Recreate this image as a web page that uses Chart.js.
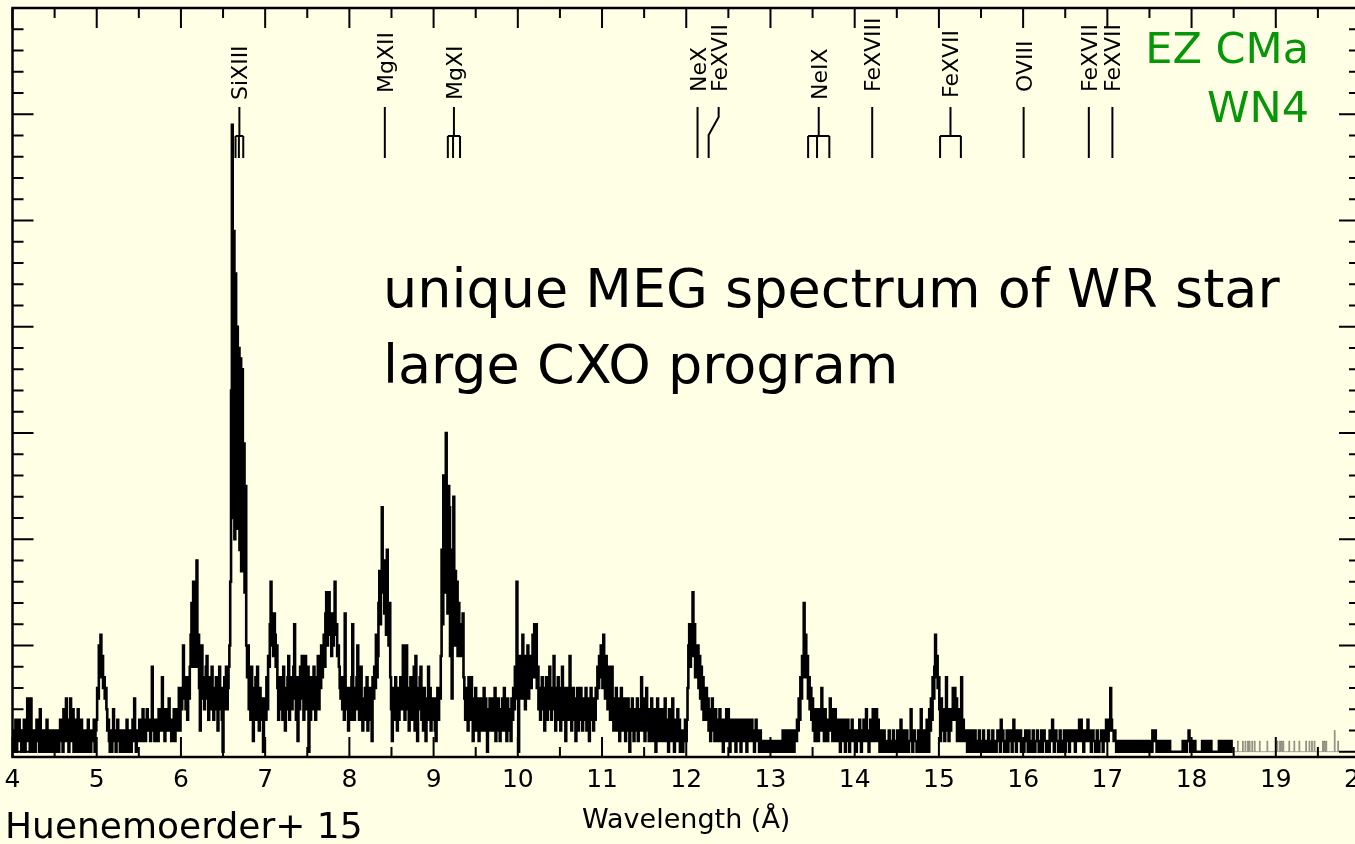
<!DOCTYPE html>
<html><head><meta charset="utf-8">
<script src="https://cdn.jsdelivr.net/npm/chart.js@4.4.1/dist/chart.umd.min.js"></script>
<style>
html,body{margin:0;padding:0;background:#ffffe5;overflow:hidden;width:1355px;height:844px;}
canvas{display:block;}
</style></head><body>
<canvas id="c" width="1380" height="844" style="width:1380px;height:844px"></canvas>
<script>
// ---- data: MEG counts per 0.01 Å bin ----
const binStep = 0.01;
const c04 = [2,0,2,1,3,0,2,1,3,1, 2,0,2,1,3,0,2,1,5,1, 3,0,5,1,2,0,2,0,2,3, 1,2,0,4,1,2,0,2,1,2, 0,3,1,2,0,2,1,2,0,2,
             1,0,2,1,2,0,2,3,1,2, 0,4,1,2,5,1,3,0,2,5, 1,2,4,0,3,1,2,0,4,1, 2,0,3,1,2,0,2,1,2,0, 3,1,2,0,2,1,2,3,0,2];
const c05 = [3,6,5,10,7,11,8,9,6,7, 5,6,4,2,3,1,0,2,0,2, 4,1,2,0,2,3,1,2,0,2, 1,0,2,1,2,0,3,1,2,0, 2,0,2,3,1,5,2,0,2,1,
             2,3,1,2,3,4,1,3,1,2, 4,2,3,2,1,3,8,2,3,1, 2,3,2,1,4,2,3,2,7,2, 3,1,4,2,3,2,5,2,3,1, 2,3,4,1,3,2,4,3,6,2];
const c06 = [5,4,6,10,5,7,4,6,3,7, 5,8,11,14,8,16,9,13,8,18, 9,11,6,2,7,10,5,7,4,6, 8,9,5,3,7,6,4,8,5,3, 6,4,7,5,2,6,8,4,6,3,
             0,5,7,4,8,4,6,8,10,16, 34,59,22,49,20,45,24,40,21,38, 19,37,17,36,18,29,15,25,10,7, 10,4,6,3,8,5,1,6,4,7, 3,8,5,2,6,4,3,5,0,4];
const c07 = [5,3,7,4,9,8,12,16,10,13, 9,13,11,8,10,6,3,5,7,4, 6,3,8,5,2,6,4,7,9,3, 5,7,4,6,8,12,5,3,7,1, 6,4,8,5,9,6,3,7,9,5,
             4,8,0,6,3,7,5,4,8,6, 3,7,5,9,4,8,6,10,7,9, 11,8,13,15,10,14,15,11,12,9, 13,10,12,16,11,12,9,10,8,6, 5,7,4,6,3,13,5,4,6,2];
const c08 = [4,6,3,7,12,5,3,6,4,7, 10,5,3,6,8,4,2,5,3,6, 4,7,2,5,3,6,4,1,7,5, 8,6,11,7,9,14,17,12,16,23, 15,18,13,16,11,19,12,10,14,7,
             4,1,6,3,5,7,4,2,6,3, 5,7,4,6,10,5,3,7,10,4, 6,2,5,7,3,6,4,8,2,9, 5,1,6,4,7,8,3,5,2,6, 4,1,5,3,8,4,6,2,5,3];
const c09 = [3,5,2,1,4,6,3,5,5,9, 19,12,26,15,22,30,25,13,25,23, 9,19,5,14,24,10,17,11,16,9, 14,10,12,9,11,13,7,5,3,6, 4,2,7,5,3,7,4,1,5,3,
             6,2,4,5,1,3,5,2,4,3, 6,2,5,3,0,4,2,5,3,4, 2,5,3,6,1,4,2,5,3,1, 4,2,5,3,6,2,4,1,5,3, 2,4,1,5,3,6,4,8,5,16];
const c10 = [7,0,9,6,8,5,11,7,9,4, 8,6,10,5,7,9,6,8,11,7, 12,9,12,6,8,4,6,3,5,7, 4,6,2,5,7,3,6,4,8,5, 3,6,4,9,5,2,6,4,7,3,
             5,2,6,8,4,3,6,1,5,4, 6,3,9,5,2,4,6,3,5,1, 4,6,2,5,3,6,4,2,5,3, 4,6,2,5,3,1,4,6,3,5, 2,4,3,6,5,8,6,9,7,10];
const c11 = [10,6,11,8,5,9,7,4,8,6, 3,5,8,4,2,5,3,6,2,4, 5,1,3,6,2,4,3,5,1,4, 2,5,3,0,4,2,5,3,1,4, 2,3,5,1,3,2,4,7,3,2,
             5,1,3,6,2,4,1,3,2,5, 1,3,4,2,0,3,5,2,1,4, 2,3,1,4,2,5,1,3,2,0, 4,2,1,3,5,2,0,3,1,2, 4,1,3,0,2,1,0,2,1,3];
const c12 = [1,3,6,10,12,8,12,9,15,11, 12,7,10,8,10,6,9,5,8,4, 7,3,6,4,6,3,5,2,4,1, 3,5,2,4,1,4,2,3,1,2, 4,1,3,2,0,3,1,2,4,1,
             4,2,0,3,1,2,3,1,2,0, 3,1,2,1,3,0,2,1,3,2, 1,3,0,2,1,3,2,1,3,1, 2,0,1,3,1,2,1,0,2,1, 1,0,1,0,1,1,0,1,0,1];
const c13 = [0,1,0,1,0,1,1,0,1,0, 1,0,1,1,0,2,1,0,1,2, 1,0,2,1,1,0,2,1,0,1, 2,1,3,2,5,3,7,5,9,7, 14,8,11,7,9,5,7,4,6,3,
             5,2,4,1,3,2,4,1,3,2, 4,6,2,3,1,4,2,3,1,2, 3,5,2,4,1,3,2,4,1,2, 3,1,2,0,3,1,2,1,3,0, 2,1,3,1,0,2,1,3,1,2];
const c14 = [1,2,0,1,2,1,3,1,0,2, 1,3,1,2,4,1,2,0,2,3, 1,2,4,1,3,2,4,1,3,1, 0,2,1,0,1,2,1,0,1,1, 0,2,1,0,1,1,2,0,1,0,
             1,2,1,0,1,3,1,0,2,1, 0,1,2,1,0,1,1,4,1,0, 1,2,1,1,0,1,2,1,0,4, 1,0,1,2,0,1,3,1,0,4, 2,5,3,7,5,8,11,7,9,6];
const c15 = [7,4,1,5,3,2,4,1,3,7, 2,4,1,3,2,4,3,6,4,6, 3,5,1,3,2,4,1,7,2,3, 1,2,2,1,0,2,1,1,0,2, 1,1,0,2,1,1,0,1,2,1,
             0,1,1,2,0,1,1,0,1,2, 1,0,1,1,2,0,1,1,0,1, 2,1,1,0,3,1,2,1,0,1, 1,2,0,1,1,2,1,0,1,3, 1,2,0,1,2,1,1,2,0,1];
const c16 = [1,0,1,2,1,1,0,2,1,1, 0,1,2,1,0,1,1,2,1,0, 1,1,2,0,1,2,1,1,0,1, 1,0,2,1,1,3,1,0,1,2, 1,1,0,1,2,1,0,1,1,2,
             0,1,1,2,1,0,1,2,1,1, 2,1,0,1,2,1,2,3,1,3, 2,1,0,2,1,2,1,3,1,2, 1,0,1,2,1,1,0,1,2,1, 0,1,1,2,1,0,2,1,2,3];
const c17 = [2,1,3,2,6,3,2,2,1,2, 1,0,1,1,0,1,0,1,1,0, 1,1,0,1,0,1,1,0,1,1, 0,1,0,1,1,0,1,1,0,1, 1,0,1,1,0,1,1,0,1,1,
             0,1,1,0,2,1,1,2,1,0, 1,1,0,1,0,1,1,0,0,1, 0,1,0,0,1,0,0,0,0,0, 0,0,0,0,0,0,0,0,0,0, 1,0,1,1,0,1,1,2,1,0];
const c18 = [1,0,1,1,1,0,0,0,0,0, 0,0,0,1,1,0,1,1,0,1, 1,1,0,1,0,0,0,0,0,0, 0,0,0,1,1,0,1,1,0,1, 1,0,1,1,0,1,1,0,1,1];
// faint (grey) part of the spectrum, 18.50 - 19.99 Å
const cFaint = [0,0,0,0,0,1,0,0,0,0, 0,1,0,0,1,0,0,1,0,1, 0,0,1,0,0,1,0,0,0,0, 0,1,0,0,0,0,0,0,0,0, 1,0,0,0,0,0,0,0,0,0,
                0,0,1,0,0,1,0,1,0,1, 0,0,0,0,0,0,1,0,0,0, 0,0,1,0,0,0,0,0,1,0, 0,0,0,0,0,0,1,0,0,0, 1,0,0,1,0,0,1,0,0,0,
                0,0,0,0,0,0,1,0,1,0, 1,0,0,0,0,0,0,0,0,0, 2,0,0,0,1,0,0,0,0,0, 0,0,0,0,0,0,0,0,0,0, 0,0,0,0,0,0,0,0,0,0];
const blockStarts = [4,5,6,7,8,9,10,11,12,13,14,15,16,17,18];
const blocks = [c04,c05,c06,c07,c08,c09,c10,c11,c12,c13,c14,c15,c16,c17,c18];
const faintStart = 18.5;

// line identifications
const ionNames = ['SiXIII','MgXII','MgXI','NeX','FeXVII','NeIX','FeXVIII','FeXVII','OVIII','FeXVII','FeXVII'];
const ionWaves = [[6.648,6.688,6.740],[8.421],[9.169,9.231,9.314],[12.134],[12.266],[13.447,13.553,13.699],[14.208],[15.014,15.261],[16.006],[16.780],[17.060]];
// label styling (pixel offsets)
const labelShift  = [0,0,0,0,10,0,0,0,0,0,0];
const labelBottom = [100,93,100,92,92,100,92,98,92,92,92];

const xTicks = [4,5,6,7,8,9,10,11,12,13,14,15,16,17,18,19,20];

// ---- build points ----
const mainPts = [];
blocks.forEach((arr, b) => arr.forEach((v, i) => mainPts.push({x: +(blockStarts[b] + i*binStep).toFixed(3), y: v})));
const faintPts = cFaint.map((v, i) => ({x: +(faintStart + i*binStep).toFixed(3), y: v}));

const FONT = '"DejaVu Sans", "Liberation Sans", sans-serif';

const decor = {
  id: 'decor',
  afterDatasetsDraw(chart) {
    const {ctx, chartArea: a, scales: {x, y}} = chart;
    ctx.save();
    ctx.strokeStyle = '#000';
    ctx.fillStyle = '#000';
    ctx.lineCap = 'butt';
    // inward ticks
    ctx.lineWidth = 2;
    ctx.beginPath();
    for (let k = 8; k <= 40; k++) {
      const v = k / 2;
      const px = x.getPixelForValue(v);
      const len = (k % 2 === 0) ? 20 : 10;
      ctx.moveTo(px, a.bottom); ctx.lineTo(px, a.bottom - len);
      ctx.moveTo(px, a.top); ctx.lineTo(px, a.top + len);
    }
    for (let v = 0; v <= 70; v += 2) {
      const py = y.getPixelForValue(v);
      const len = (v % 10 === 0) ? 21 : 11;
      ctx.moveTo(a.left, py); ctx.lineTo(a.left + len, py);
      ctx.moveTo(a.right, py); ctx.lineTo(a.right - len, py);
    }
    ctx.stroke();
    // frame
    ctx.lineWidth = 2.5;
    ctx.strokeRect(a.left, a.top, a.right - a.left, a.bottom - a.top);

    // line identification markers
    ctx.lineWidth = 2;
    const capH = 16;
    ionWaves.forEach((ws, k) => {
      const pxs = ws.map(w => x.getPixelForValue(w));
      const lo = Math.min(...pxs), hi = Math.max(...pxs);
      const stem = (lo + hi) / 2;
      const labX = stem + labelShift[k];
      ctx.beginPath();
      if (pxs.length > 1) {
        ctx.moveTo(stem, 107); ctx.lineTo(stem, 136);
        ctx.moveTo(lo, 136); ctx.lineTo(hi, 136);
        pxs.forEach(p => { ctx.moveTo(p, 136); ctx.lineTo(p, 158); });
      } else if (labelShift[k]) {
        ctx.moveTo(labX, 107); ctx.lineTo(labX, 117); ctx.lineTo(stem, 135); ctx.lineTo(stem, 158);
      } else {
        ctx.moveTo(stem, 107); ctx.lineTo(stem, 158);
      }
      ctx.stroke();
      ctx.save();
      ctx.translate(labX + capH / 2, labelBottom[k]);
      ctx.rotate(-Math.PI / 2);
      ctx.font = '22px ' + FONT;
      ctx.textAlign = 'left';
      ctx.textBaseline = 'alphabetic';
      ctx.fillText(ionNames[k], 0, 0);
      ctx.restore();
    });

    // annotations
    ctx.textBaseline = 'alphabetic';
    ctx.textAlign = 'left';
    ctx.font = '54px ' + FONT;
    ctx.fillText('unique MEG spectrum of WR star', 383, 307);
    ctx.fillText('large CXO program', 383, 383);
    ctx.font = '36px ' + FONT;
    ctx.fillText('Huenemoerder+ 15', 5, 838);
    ctx.fillStyle = '#079607';
    ctx.textAlign = 'right';
    ctx.font = '43px ' + FONT;
    ctx.fillText('EZ CMa', 1309, 63);
    ctx.fillText('WN4', 1309, 122);
    ctx.restore();
  }
};

new Chart(document.getElementById('c'), {
  type: 'line',
  data: {
    datasets: [
      {data: mainPts, borderColor: '#000', borderWidth: 2.6, stepped: 'middle', pointRadius: 0, fill: false},
      {data: faintPts, borderColor: 'rgba(0,0,0,0.4)', borderWidth: 1, stepped: 'middle', pointRadius: 0, fill: false}
    ]
  },
  options: {
    responsive: false,
    animation: false,
    devicePixelRatio: 1,
    events: [],
    layout: {padding: {left: 12.5, right: 20, top: 8, bottom: 0}},
    plugins: {legend: {display: false}, tooltip: {enabled: false}},
    scales: {
      x: {
        type: 'linear', min: 4, max: 20, position: 'bottom',
        afterBuildTicks: s => { s.ticks = xTicks.map(v => ({value: v})); },
        afterFit: s => { s.height = 87; s.paddingLeft = 0; s.paddingRight = 0; },
        grid: {display: false, drawTicks: false},
        border: {display: false},
        ticks: {font: {family: FONT, size: 25}, color: '#000', padding: 8, maxRotation: 0, autoSkip: false,
                callback: v => String(v)},
        title: {display: true, text: 'Wavelength (Å)', color: '#000', font: {family: FONT, size: 27},
                padding: {top: 0, bottom: 7}}
      },
      y: {type: 'linear', min: -0.5, max: 70, display: false}
    }
  },
  plugins: [decor]
});
</script></body></html>
